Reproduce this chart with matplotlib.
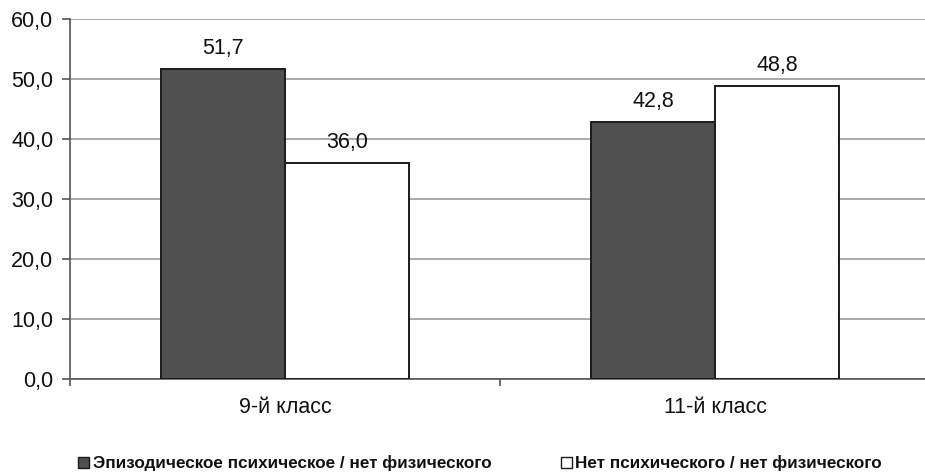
import matplotlib
matplotlib.use("Agg")
import matplotlib.pyplot as plt
from matplotlib.patches import Rectangle
import numpy as np

categories = ["9-й класс", "11-й класс"]
series_names = ["Эпизодическое психическое / нет физического",
                "Нет психического / нет физического"]
episodic = [51.7, 42.8]
none_vals = [36.0, 48.8]
yticks = [0, 10, 20, 30, 40, 50, 60]

plt.rcParams['font.family'] = ['Liberation Sans', 'DejaVu Sans']

fig = plt.figure(figsize=(9.25, 4.76), dpi=100)
ax = fig.add_axes([70/925, 1-379/476, 860/925, 360/476])

x = np.arange(len(categories))
w = 0.288
b1 = ax.bar(x - w/2, episodic, w, color="#505050", edgecolor="#1a1a1a", linewidth=1.4, zorder=3)
b2 = ax.bar(x + w/2, none_vals, w, color="white", edgecolor="#1a1a1a", linewidth=1.4, zorder=3)

for bars, vals in ((b1, episodic), (b2, none_vals)):
    for r, v in zip(bars, vals):
        ax.annotate(f"{v:.1f}".replace(".", ","), (r.get_x() + r.get_width()/2, v),
                    xytext=(0, 7), textcoords="offset points", ha="center", va="bottom",
                    fontsize=15.5, color="#111111")

ax.set_xlim(-0.5, 1.5)
ax.set_ylim(0, 60)
ax.set_yticks(yticks)
ax.set_yticklabels([f"{t:.1f}".replace(".", ",") for t in yticks], fontsize=15.5, color="#111111")
ax.yaxis.grid(True, color="#999999", linewidth=1.2, zorder=0)
ax.set_axisbelow(True)

ax.set_xticks(x)
ax.set_xticklabels(categories, fontsize=15.5, color="#111111")
ax.tick_params(axis="x", length=0, pad=13)
ax.set_xticks([-0.5, 0.5, 1.5], minor=True)
ax.tick_params(axis="x", which="minor", length=5, width=1.2, color="#555555", direction="out")
ax.tick_params(axis="y", length=6, width=1.2, color="#555555", direction="out", pad=6)

for s in ("top", "right"):
    ax.spines[s].set_visible(False)
ax.spines["left"].set_color("#555555")
ax.spines["left"].set_linewidth(1.2)
ax.spines["bottom"].set_color("#555555")
ax.spines["bottom"].set_linewidth(1.2)

# legend drawn manually
ly = 1 - 463/476
fig.patches.append(Rectangle((78/925, 1-468/476), 11/925, 11/476, transform=fig.transFigure,
                             facecolor="#505050", edgecolor="#1a1a1a", linewidth=1.0))
fig.patches.append(Rectangle((561/925, 1-468/476), 11/925, 11/476, transform=fig.transFigure,
                             facecolor="white", edgecolor="#1a1a1a", linewidth=1.0))
fig.text(93/925, ly, series_names[0], ha="left", va="center", fontsize=12.3,
         fontweight="bold", color="#111111")
fig.text(575/925, ly, series_names[1], ha="left", va="center", fontsize=12.3,
         fontweight="bold", color="#111111")

fig.savefig("out.png", dpi=100, facecolor="white")
